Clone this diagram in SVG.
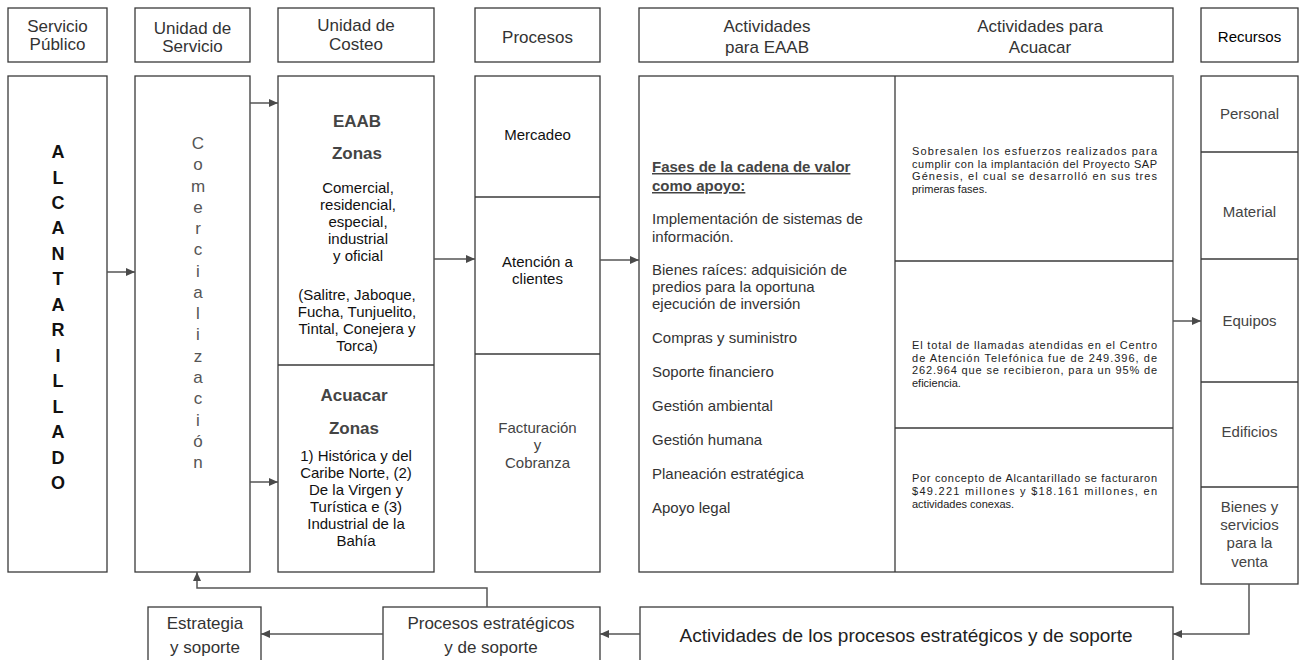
<svg xmlns="http://www.w3.org/2000/svg" width="1300" height="660" viewBox="0 0 1300 660">
<defs>
<marker id="arr" markerUnits="userSpaceOnUse" markerWidth="9" markerHeight="8" refX="9" refY="4" orient="auto">
<path d="M0,0 L9,4 L0,8 z" fill="#4a4a4a"/>
</marker>
<style>
.box{fill:#fff;stroke:#3a3a3a;stroke-width:1.3}
.div{stroke:#3a3a3a;stroke-width:1.3;fill:none}
.con{stroke:#555;stroke-width:1.5;fill:none}
text{font-family:"Liberation Sans",Arial,sans-serif}
.hd{font-size:17px;fill:#333;text-anchor:middle}
.c15{font-size:15px;fill:#111;text-anchor:middle}
.g15{font-size:15px;fill:#444;text-anchor:middle}
.bz{font-size:17px;font-weight:bold;fill:#444;text-anchor:middle}
.alc{font-size:18px;font-weight:bold;fill:#111;text-anchor:middle}
.com{font-size:17px;fill:#555;text-anchor:middle}
.fa{font-size:15px;fill:#333}
.fh{font-size:15px;font-weight:bold;fill:#444;text-decoration:underline}
.sm{font-size:11px;fill:#222}
</style>
</defs>
<rect width="1300" height="660" fill="#fff"/>

<g id="hdr-servicio"><rect class="box" x="8" y="8" width="99" height="54"/><text class="hd" x="57.5" y="32">Servicio</text><text class="hd" x="57.5" y="50">Público</text></g>
<g id="hdr-unidad-servicio"><rect class="box" x="135" y="8" width="115" height="54"/><text class="hd" x="192.5" y="34">Unidad de</text><text class="hd" x="192.5" y="52">Servicio</text></g>
<g id="hdr-unidad-costeo"><rect class="box" x="278" y="8" width="156" height="54"/><text class="hd" x="356" y="31">Unidad de</text><text class="hd" x="356" y="50">Costeo</text></g>
<g id="hdr-procesos"><rect class="box" x="475" y="8" width="125" height="54"/><text class="hd" x="537.5" y="43">Procesos</text></g>
<g id="hdr-actividades"><rect class="box" x="639" y="8" width="534" height="54"/><text class="hd" x="767" y="32">Actividades</text><text class="hd" x="767" y="53">para EAAB</text><text class="hd" x="1040" y="32">Actividades para</text><text class="hd" x="1040" y="53">Acuacar</text></g>
<g id="hdr-recursos"><rect class="box" x="1201" y="8" width="97" height="54"/><text x="1249.5" y="42" style="font-size:15px;fill:#000;text-anchor:middle">Recursos</text></g>

<g id="alcantarillado"><rect class="box" x="8" y="76" width="99" height="496"/>
<text class="alc" x="58" y="158">A</text><text class="alc" x="58" y="183.5">L</text><text class="alc" x="58" y="209">C</text><text class="alc" x="58" y="234.4">A</text><text class="alc" x="58" y="259.8">N</text><text class="alc" x="58" y="285.3">T</text><text class="alc" x="58" y="310.8">A</text><text class="alc" x="58" y="336.2">R</text><text class="alc" x="58" y="361.7">I</text><text class="alc" x="58" y="387.1">L</text><text class="alc" x="58" y="412.6">L</text><text class="alc" x="58" y="438">A</text><text class="alc" x="58" y="463.5">D</text><text class="alc" x="58" y="489">O</text>
</g>

<g id="comercializacion"><rect class="box" x="135" y="76" width="115" height="496"/>
<text class="com" x="198" y="149">C</text><text class="com" x="198" y="170.3">o</text><text class="com" x="198" y="191.5">m</text><text class="com" x="198" y="212.8">e</text><text class="com" x="198" y="234.1">r</text><text class="com" x="198" y="255.4">c</text><text class="com" x="198" y="276.6">i</text><text class="com" x="198" y="297.9">a</text><text class="com" x="198" y="319.2">l</text><text class="com" x="198" y="340.4">i</text><text class="com" x="198" y="361.7">z</text><text class="com" x="198" y="383">a</text><text class="com" x="198" y="404.2">c</text><text class="com" x="198" y="425.5">i</text><text class="com" x="198" y="446.8">ó</text><text class="com" x="198" y="468">n</text>
</g>

<g id="costeo"><rect class="box" x="278" y="76" width="156" height="496"/><line class="div" x1="278" y1="365" x2="434" y2="365"/>
<text class="bz" x="357" y="127">EAAB</text>
<text class="bz" x="357" y="159">Zonas</text>
<text class="c15" x="358" y="193">Comercial,</text>
<text class="c15" x="358" y="210">residencial,</text>
<text class="c15" x="358" y="227">especial,</text>
<text class="c15" x="358" y="244">industrial</text>
<text class="c15" x="358" y="261">y oficial</text>
<text class="c15" x="357" y="300">(Salitre, Jaboque,</text>
<text class="c15" x="357" y="317">Fucha, Tunjuelito,</text>
<text class="c15" x="357" y="334">Tintal, Conejera y</text>
<text class="c15" x="357" y="351">Torca)</text>
<text class="bz" x="354" y="401">Acuacar</text>
<text class="bz" x="354" y="434">Zonas</text>
<text class="c15" x="356" y="461">1) Histórica y del</text>
<text class="c15" x="356" y="478">Caribe Norte, (2)</text>
<text class="c15" x="356" y="495">De la Virgen y</text>
<text class="c15" x="356" y="512">Turística e (3)</text>
<text class="c15" x="356" y="529">Industrial de la</text>
<text class="c15" x="356" y="546">Bahía</text>
</g>

<g id="procesos"><rect class="box" x="475" y="76" width="125" height="496"/><line class="div" x1="475" y1="197" x2="600" y2="197"/><line class="div" x1="475" y1="354" x2="600" y2="354"/>
<text class="c15" x="537.5" y="140">Mercadeo</text>
<text class="c15" x="537.5" y="267">Atención a</text>
<text class="c15" x="537.5" y="284">clientes</text>
<text class="g15" x="537.5" y="433">Facturación</text>
<text class="g15" x="537.5" y="450">y</text>
<text class="g15" x="537.5" y="468">Cobranza</text>
</g>

<g id="actividades"><rect class="box" x="639" y="76" width="534" height="496"/><line x1="1173" y1="76" x2="1173" y2="572" stroke="#999" stroke-width="1.3"/><line class="div" x1="895" y1="76" x2="895" y2="572"/><line class="div" x1="895" y1="261" x2="1173" y2="261"/><line class="div" x1="895" y1="428" x2="1173" y2="428"/>
<text class="fh" x="652" y="172">Fases de la cadena de valor</text>
<text class="fh" x="652" y="191">como apoyo:</text>
<text class="fa" x="652" y="224">Implementación de sistemas de</text>
<text class="fa" x="652" y="242">información.</text>
<text class="fa" x="652" y="275">Bienes raíces: adquisición de</text>
<text class="fa" x="652" y="292">predios para la oportuna</text>
<text class="fa" x="652" y="309">ejecución de inversión</text>
<text class="fa" x="652" y="343">Compras y suministro</text>
<text class="fa" x="652" y="377">Soporte financiero</text>
<text class="fa" x="652" y="411">Gestión ambiental</text>
<text class="fa" x="652" y="445">Gestión humana</text>
<text class="fa" x="652" y="479">Planeación estratégica</text>
<text class="fa" x="652" y="513">Apoyo legal</text>
<text class="sm" x="912" y="155" textLength="245" lengthAdjust="spacing">Sobresalen los esfuerzos realizados para</text>
<text class="sm" x="912" y="167.7" textLength="245" lengthAdjust="spacing">cumplir con la implantación del Proyecto SAP</text>
<text class="sm" x="912" y="180.4" textLength="245" lengthAdjust="spacing">Génesis, el cual se desarrolló en sus tres</text>
<text class="sm" x="912" y="193.1">primeras fases.</text>
<text class="sm" x="912" y="349" textLength="245" lengthAdjust="spacing">El total de llamadas atendidas en el Centro</text>
<text class="sm" x="912" y="361.7" textLength="245" lengthAdjust="spacing">de Atención Telefónica fue de 249.396, de</text>
<text class="sm" x="912" y="374.4" textLength="245" lengthAdjust="spacing">262.964 que se recibieron, para un 95% de</text>
<text class="sm" x="912" y="387.1">eficiencia.</text>
<text class="sm" x="912" y="482.3" textLength="245" lengthAdjust="spacing">Por concepto de Alcantarillado se facturaron</text>
<text class="sm" x="912" y="495" textLength="245" lengthAdjust="spacing">$49.221 millones y $18.161 millones, en</text>
<text class="sm" x="912" y="507.7">actividades conexas.</text>
</g>

<g id="recursos"><rect class="box" x="1201" y="76" width="97" height="508"/><line class="div" x1="1201" y1="152" x2="1298" y2="152"/><line class="div" x1="1201" y1="259" x2="1298" y2="259"/><line class="div" x1="1201" y1="382" x2="1298" y2="382"/><line class="div" x1="1201" y1="487" x2="1298" y2="487"/>
<text class="g15" x="1249.5" y="119">Personal</text>
<text class="g15" x="1249.5" y="217">Material</text>
<text class="g15" x="1249.5" y="326">Equipos</text>
<text class="g15" x="1249.5" y="437">Edificios</text>
<text class="g15" x="1249.5" y="512">Bienes y</text>
<text class="g15" x="1249.5" y="530">servicios</text>
<text class="g15" x="1249.5" y="548">para la</text>
<text class="g15" x="1249.5" y="567">venta</text>
</g>

<g id="estrategia"><rect class="box" x="148" y="607" width="113" height="70"/><text class="hd" x="205" y="629">Estrategia</text><text class="hd" x="205" y="653">y soporte</text></g>
<g id="procesos-estrategicos"><rect class="box" x="383" y="607" width="217" height="70"/><text class="hd" x="491" y="629">Procesos estratégicos</text><text class="hd" x="491" y="653">y de soporte</text></g>
<g id="actividades-procesos"><rect class="box" x="640" y="607" width="533" height="70"/><text x="906" y="642" style="font-size:19px;fill:#222;text-anchor:middle">Actividades de los procesos estratégicos y de soporte</text></g>

<g id="connectors">
<line class="con" x1="107" y1="272" x2="135" y2="272" marker-end="url(#arr)"/>
<line class="con" x1="250" y1="103" x2="278" y2="103" marker-end="url(#arr)"/>
<line class="con" x1="250" y1="482" x2="278" y2="482" marker-end="url(#arr)"/>
<line class="con" x1="434" y1="259" x2="475" y2="259" marker-end="url(#arr)"/>
<line class="con" x1="600" y1="260" x2="639" y2="260" marker-end="url(#arr)"/>
<line class="con" x1="1173" y1="321" x2="1201" y2="321" marker-end="url(#arr)"/>
<path class="con" d="M1249,584 V634 H1173" marker-end="url(#arr)"/>
<line class="con" x1="640" y1="634" x2="600" y2="634" marker-end="url(#arr)"/>
<line class="con" x1="383" y1="634" x2="261" y2="634" marker-end="url(#arr)"/>
<path class="con" d="M487,607 V588 H197 V572" marker-end="url(#arr)"/>
</g>
</svg>
